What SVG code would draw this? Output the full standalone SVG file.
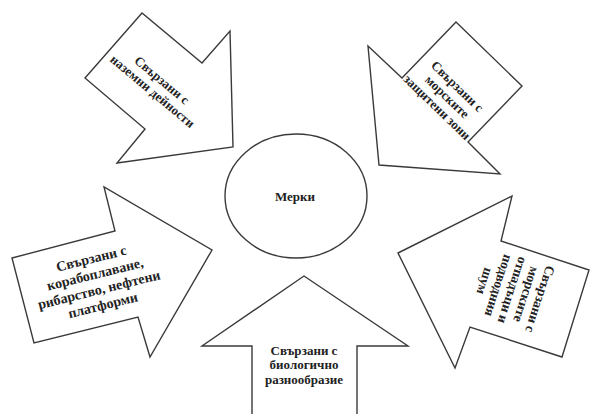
<svg xmlns="http://www.w3.org/2000/svg" width="593" height="414" viewBox="0 0 593 414">
<style>
.shape{fill:#fff;stroke:#3a3a3a;stroke-width:1.4;stroke-linejoin:miter}
.t{font-family:"Liberation Serif","DejaVu Serif",serif;font-weight:bold;font-size:13px;fill:#222;text-anchor:middle}
.big{font-size:14px}
.mid{font-size:13.5px}
</style>
<rect width="593" height="414" fill="#fff"/>
<g id="connectors"></g>
<g id="center">
<ellipse class="shape" cx="296" cy="196" rx="71" ry="62"/>
<text class="t" x="295" y="201">Мерки</text>
</g>
<g id="arrow-land">
<polygon class="shape" points="85,78 142,13 202,63 230,31 233,147 117,163 145,129"/>
<g transform="translate(157,86) rotate(40)">
<text class="t" x="0" y="-3.25">Свързани с</text>
<text class="t" x="0" y="11.25">наземни дейности</text>
</g>
</g>
<g id="arrow-protected">
<polygon class="shape" points="456,22 522,86 468,142 500,174 379,165 368,46 402,78"/>
<g transform="translate(447,97) rotate(44)">
<text class="t" x="0" y="-10.5">Свързани с</text>
<text class="t" x="0" y="4">морските</text>
<text class="t" x="0" y="18.5">защитени зони</text>
</g>
</g>
<g id="arrow-shipping">
<polygon class="shape" points="12,258 115,231 104,187 212,250 150,357 138,317 34,343"/>
<g transform="translate(97,281.5) rotate(-14)">
<text class="t big" x="0" y="-19">Свързани с</text>
<text class="t big" x="0" y="-3">корабоплаване,</text>
<text class="t big" x="0" y="13">рибарство, нефтени</text>
<text class="t big" x="0" y="29">платформи</text>
</g>
</g>
<g id="arrow-biodiversity">
<polygon class="shape" points="252,415 252,346 202,346 304,276 408,346 357,346 357,415"/>
<text class="t" x="304" y="354.5">Свързани с</text>
<text class="t" x="304" y="369">биологично</text>
<text class="t" x="304" y="383.5">разнообразие</text>
</g>
<g id="arrow-waste">
<polygon class="shape" points="398,253 512,196 501,241 589,270 562,357 470,327 455,368"/>
<g transform="translate(512,290) rotate(108)">
<text class="t mid" x="0" y="-25">Свързани с</text>
<text class="t mid" x="0" y="-10.5">морските</text>
<text class="t mid" x="0" y="4">отпадъци и</text>
<text class="t mid" x="0" y="18.5">подводния</text>
<text class="t mid" x="0" y="33">шум</text>
</g>
</g>
</svg>
